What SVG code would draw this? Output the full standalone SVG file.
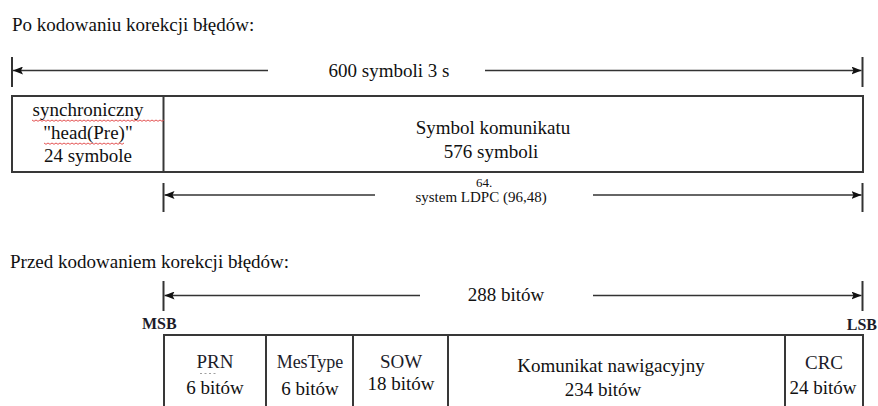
<svg xmlns="http://www.w3.org/2000/svg" width="878" height="406" viewBox="0 0 878 406">
<style>
  text { font-family: 'Liberation Serif', 'Times New Roman', serif; font-size: 19px; font-weight: 500; fill: #111; }
  .c { text-anchor: middle; }
  .small { font-size: 15px; }
  .tiny { font-size: 13px; }
  .hdr { fill: #1c1c2a; }
  .bold { font-weight: bold; font-size: 16px; fill: #1c1c2a; }
  .box { fill: #fff; stroke: #383838; stroke-width: 2; }
  .div { stroke: #383838; stroke-width: 2; fill: none; }
  .arr { stroke: #333; stroke-width: 1.6; fill: none; marker-end: url(#ah); }
  .tick { stroke: #333; stroke-width: 2; }
  .wavy { stroke: #e04040; stroke-width: 0.9; fill: none; }
</style>
<defs>
  <marker id="ah" viewBox="0 0 10 8" refX="10" refY="4" markerWidth="10" markerHeight="8" markerUnits="userSpaceOnUse" orient="auto">
    <path d="M0,0 L10,4 L0,8 L2,4 z" fill="#111"/>
  </marker>
</defs>

<g id="title-after">
  <text x="12" y="31">Po kodowaniu korekcji błędów:</text>
</g>

<g id="top-box">
  <rect class="box" x="12" y="96" width="851" height="76"/>
  <line class="div" x1="163.5" y1="96" x2="163.5" y2="172"/>
</g>

<g id="cell-sync">
  <text class="c" x="88" y="116">synchroniczny</text>
  <text class="c" x="88" y="139">"head(Pre)"</text>
  <text class="c" x="88" y="162">24 symbole</text>
  <path class="wavy" d="M32,120 l2,1.3 2,-1.3 2,1.3 2,-1.3 2,1.3 2,-1.3 2,1.3 2,-1.3 2,1.3 2,-1.3 2,1.3 2,-1.3 2,1.3 2,-1.3 2,1.3 2,-1.3 2,1.3 2,-1.3 2,1.3 2,-1.3 2,1.3 2,-1.3 2,1.3 2,-1.3 2,1.3 2,-1.3 2,1.3 2,-1.3 2,1.3 2,-1.3 2,1.3 2,-1.3 2,1.3 2,-1.3 2,1.3 2,-1.3 2,1.3 2,-1.3 2,1.3 2,-1.3 2,1.3 2,-1.3 2,1.3 2,-1.3 2,1.3 2,-1.3 2,1.3 2,-1.3 2,1.3 2,-1.3 2,1.3 2,-1.3 2,1.3 2,-1.3 2,1.3 2,-1.3 2,1.3 2,-1.3 2,1.3 2,-1.3 2,1.3 2,-1.3 2,1.3 2,-1.3 2,1.3 2,-1.3"/>
  <path class="wavy" d="M44,143 l2,1.3 2,-1.3 2,1.3 2,-1.3 2,1.3 2,-1.3 2,1.3 2,-1.3 2,1.3 2,-1.3 2,1.3 2,-1.3 2,1.3 2,-1.3 2,1.3 2,-1.3 2,1.3 2,-1.3 2,1.3 2,-1.3 2,1.3 2,-1.3 2,1.3 2,-1.3 2,1.3 2,-1.3 2,1.3 2,-1.3 2,1.3 2,-1.3 2,1.3 2,-1.3 2,1.3 2,-1.3 2,1.3 2,-1.3 2,1.3 2,-1.3 2,1.3 2,-1.3"/>
</g>

<g id="cell-message">
  <text class="c" x="493" y="134">Symbol komunikatu</text>
  <text class="c" x="491" y="158">576 symboli</text>
</g>

<g id="label-600">
  <text class="c" x="389" y="77">600 symboli 3 s</text>
</g>

<g id="label-ldpc">
  <text class="c tiny" x="484" y="187">64.</text>
  <text class="c small" x="481" y="202">system LDPC (96,48)</text>
</g>

<g id="title-before">
  <text x="10" y="268">Przed kodowaniem korekcji błędów:</text>
</g>

<g id="label-288">
  <text class="c" x="506" y="301">288 bitów</text>
</g>

<g id="msb"><text class="bold" x="142" y="329">MSB</text></g>
<g id="lsb"><text class="bold" x="877" y="330" text-anchor="end">LSB</text></g>

<g id="bottom-box">
  <path class="div" d="M164,410 V335 H863 V410"/>
  <line class="div" x1="266" y1="335" x2="266" y2="410"/>
  <line class="div" x1="353" y1="335" x2="353" y2="410"/>
  <line class="div" x1="448" y1="335" x2="448" y2="410"/>
  <line class="div" x1="785" y1="335" x2="785" y2="410"/>
</g>

<g id="field-prn">
  <text class="c hdr" x="215" y="368">PRN</text>
  <line x1="200" y1="373.5" x2="216" y2="373.5" stroke="#888" stroke-width="0.8" stroke-dasharray="2,2.5"/>
  <text class="c" x="215" y="394">6 bitów</text>
</g>
<g id="field-mestype">
  <text class="c hdr" x="310" y="368" style="font-size:18px">MesType</text>
  <text class="c" x="310" y="395">6 bitów</text>
</g>
<g id="field-sow">
  <text class="c hdr" x="401" y="368">SOW</text>
  <text class="c" x="401" y="390">18 bitów</text>
</g>
<g id="field-nav">
  <text class="c" x="611" y="372">Komunikat nawigacyjny</text>
  <text class="c" x="603" y="396">234 bitów</text>
</g>
<g id="field-crc">
  <text class="c hdr" x="824" y="369">CRC</text>
  <text class="c" x="823" y="394">24 bitów</text>
</g>

<g id="connectors">
  <line class="tick" x1="12" y1="57" x2="12" y2="87"/>
  <line class="tick" x1="862.5" y1="57" x2="862.5" y2="87"/>
  <line class="arr" x1="268" y1="70.5" x2="13" y2="70.5"/>
  <line class="arr" x1="485" y1="70.5" x2="861.5" y2="70.5"/>

  <line class="tick" x1="163.5" y1="183" x2="163.5" y2="212"/>
  <line class="tick" x1="862.5" y1="183" x2="862.5" y2="212"/>
  <line class="arr" x1="375" y1="195" x2="164.5" y2="195"/>
  <line class="arr" x1="593" y1="195" x2="861.5" y2="195"/>

  <line class="tick" x1="163.5" y1="281" x2="163.5" y2="311"/>
  <line class="tick" x1="862.5" y1="281" x2="862.5" y2="311"/>
  <line class="arr" x1="420" y1="295.5" x2="164.5" y2="295.5"/>
  <line class="arr" x1="593" y1="295.5" x2="861.5" y2="295.5"/>
</g>
</svg>
